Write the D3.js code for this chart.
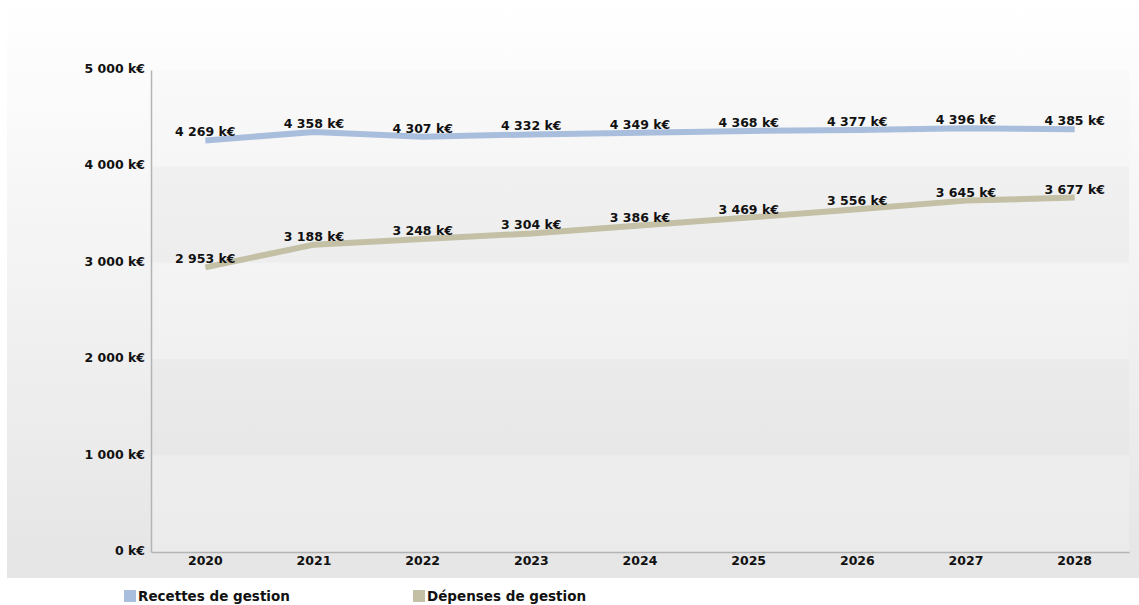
<!DOCTYPE html>
<html>
<head>
<meta charset="utf-8">
<script src="https://cdn.jsdelivr.net/npm/d3@7"></script>
<style>
  html, body { margin: 0; padding: 0; background: #ffffff; }
  svg { display: block; }
  text { font-family: "DejaVu Sans", Verdana, sans-serif; font-weight: bold; fill: #111; }
</style>
</head>
<body>
<svg id="chart" width="1139" height="605"></svg>
<script>
// Budget projection: management revenue vs management expenses (k€)
const years = ["2020", "2021", "2022", "2023", "2024", "2025", "2026", "2027", "2028"];
const recettes = [4269, 4358, 4307, 4332, 4349, 4368, 4377, 4396, 4385];
const depenses = [2953, 3188, 3248, 3304, 3386, 3469, 3556, 3645, 3677];
const yTicks = [0, 1000, 2000, 3000, 4000, 5000];
const seriesNames = ["Recettes de gestion", "Dépenses de gestion"];
const seriesColors = ["#a8bedc", "#c3c0a6"];

const fmt = v => d3.format(",")(v).replace(/,/g, " ") + " k€";

const svg = d3.select("#chart");
const W = 1139, H = 605;
const plot = { left: 151, right: 1129, top: 70, bottom: 552 };

const defs = svg.append("defs");
const outerGrad = defs.append("linearGradient").attr("id", "outerGrad")
  .attr("x1", 0).attr("y1", 0).attr("x2", 0).attr("y2", 1);
outerGrad.append("stop").attr("offset", 0).attr("stop-color", "#ffffff");
outerGrad.append("stop").attr("offset", 1).attr("stop-color", "#e5e5e5");

const plotGrad = defs.append("linearGradient").attr("id", "plotGrad")
  .attr("x1", 0).attr("y1", 0).attr("x2", 0).attr("y2", 1);
plotGrad.append("stop").attr("offset", 0).attr("stop-color", "#f9f9f9");
plotGrad.append("stop").attr("offset", 1).attr("stop-color", "#ebebeb");

// chart background
svg.append("rect").attr("x", 7).attr("y", 0).attr("width", W - 7).attr("height", 578)
  .attr("fill", "url(#outerGrad)");

const x = d3.scaleBand().domain(years).range([plot.left, plot.right]).padding(0);
const y = d3.scaleLinear().domain([0, 5000]).range([plot.bottom, plot.top]);

// plot area with alternating bands
svg.append("rect").attr("x", plot.left).attr("y", plot.top)
  .attr("width", plot.right - plot.left).attr("height", plot.bottom - plot.top)
  .attr("fill", "url(#plotGrad)");
const bandPairs = d3.pairs(yTicks);
svg.append("g").selectAll("rect").data(bandPairs.filter((d, i) => i % 2 === 1))
  .join("rect")
  .attr("x", plot.left).attr("width", plot.right - plot.left)
  .attr("y", d => y(d[1])).attr("height", d => y(d[0]) - y(d[1]))
  .attr("fill", "#000").attr("fill-opacity", 0.025);

// axes
const yAxis = d3.axisLeft(y).tickValues(yTicks).tickSize(0).tickPadding(6).tickFormat(fmt);
const gy = svg.append("g").attr("transform", `translate(${plot.left},0)`).call(yAxis);
gy.select(".domain").attr("stroke", "#b4b4b4").attr("stroke-width", 1.5);
gy.selectAll("text").attr("font-size", 12.5).attr("dy", "0.2em");

const xAxis = d3.axisBottom(x).tickSize(0).tickPadding(4);
const gx = svg.append("g").attr("transform", `translate(0,${plot.bottom})`).call(xAxis);
gx.select(".domain").attr("stroke", "#b4b4b4").attr("stroke-width", 1.5);
gx.selectAll("text").attr("font-size", 12.5);
svg.selectAll(".tick text").style("font-family", "'DejaVu Sans', Verdana, sans-serif")
  .style("font-weight", "bold").attr("fill", "#111");

// series
const series = [recettes, depenses];
const line = d3.line().x((d, i) => x(years[i]) + x.bandwidth() / 2).y(d => y(d));
series.forEach((vals, s) => {
  svg.append("path").datum(vals)
    .attr("d", line)
    .attr("fill", "none")
    .attr("stroke", seriesColors[s])
    .attr("stroke-width", 6)
    .attr("stroke-linejoin", "round");
  svg.append("g").selectAll("text").data(vals).join("text")
    .attr("x", (d, i) => x(years[i]) + x.bandwidth() / 2)
    .attr("y", d => y(d) - 4)
    .attr("text-anchor", "middle")
    .attr("font-size", 12.5)
    .text(fmt);
});

// legend
const legendX = [124, 413];
const lg = svg.append("g");
seriesNames.forEach((name, s) => {
  lg.append("rect").attr("x", legendX[s]).attr("y", 590).attr("width", 12).attr("height", 12)
    .attr("fill", seriesColors[s]);
  lg.append("text").attr("x", legendX[s] + 14).attr("y", 601)
    .attr("font-size", 13.5).text(name);
});
</script>
</body>
</html>
